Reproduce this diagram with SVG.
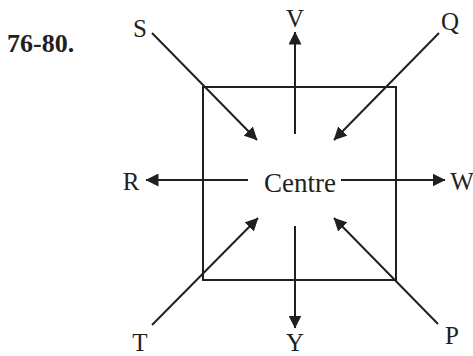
<svg xmlns="http://www.w3.org/2000/svg" width="473" height="356" viewBox="0 0 473 356">
<style>
.lbl{font-family:"Liberation Serif","Times New Roman",serif;font-size:25px;fill:#231f20;text-anchor:middle}
.ttl{font-family:"Liberation Serif","Times New Roman",serif;font-size:26px;font-weight:bold;fill:#231f20}
.ln{stroke:#231f20;stroke-width:2;fill:none}
.arr{stroke:#231f20;stroke-width:2;fill:none;marker-end:url(#ah)}
</style>
<defs>
<marker id="ah" viewBox="0 0 13 13" refX="12.5" refY="6.5" markerWidth="13" markerHeight="13" markerUnits="userSpaceOnUse" orient="auto">
<path d="M0,0 L13,6.5 L0,13 Z" fill="#231f20"/>
</marker>
</defs>
<rect width="473" height="356" fill="#fff"/>
<text class="ttl" x="7" y="52">76-80.</text>
<g id="box"><rect class="ln" x="203" y="87" width="193" height="193"/></g>
<g id="centre"><text class="lbl" x="300" y="192" style="font-size:27px">Centre</text></g>
<g id="S"><text class="lbl" x="140" y="37">S</text></g>
<g id="V"><text class="lbl" x="295" y="27">V</text></g>
<g id="Q"><text class="lbl" x="450" y="30">Q</text></g>
<g id="R"><text class="lbl" x="131" y="190">R</text></g>
<g id="W"><text class="lbl" x="462" y="190">W</text></g>
<g id="T"><text class="lbl" x="140" y="351">T</text></g>
<g id="Y"><text class="lbl" x="295" y="351">Y</text></g>
<g id="P"><text class="lbl" x="452" y="344">P</text></g>
<g id="connectors">
<line class="arr" x1="152" y1="33" x2="257" y2="140"/>
<line class="arr" x1="439" y1="33" x2="334" y2="140"/>
<line class="arr" x1="152" y1="325" x2="258" y2="218"/>
<line class="arr" x1="438" y1="324" x2="334" y2="218"/>
<line class="arr" x1="295" y1="134" x2="295" y2="32"/>
<line class="arr" x1="295" y1="226" x2="295" y2="328"/>
<line class="arr" x1="248" y1="180" x2="146" y2="180"/>
<line class="arr" x1="341" y1="180" x2="445" y2="180"/>
</g>
</svg>
